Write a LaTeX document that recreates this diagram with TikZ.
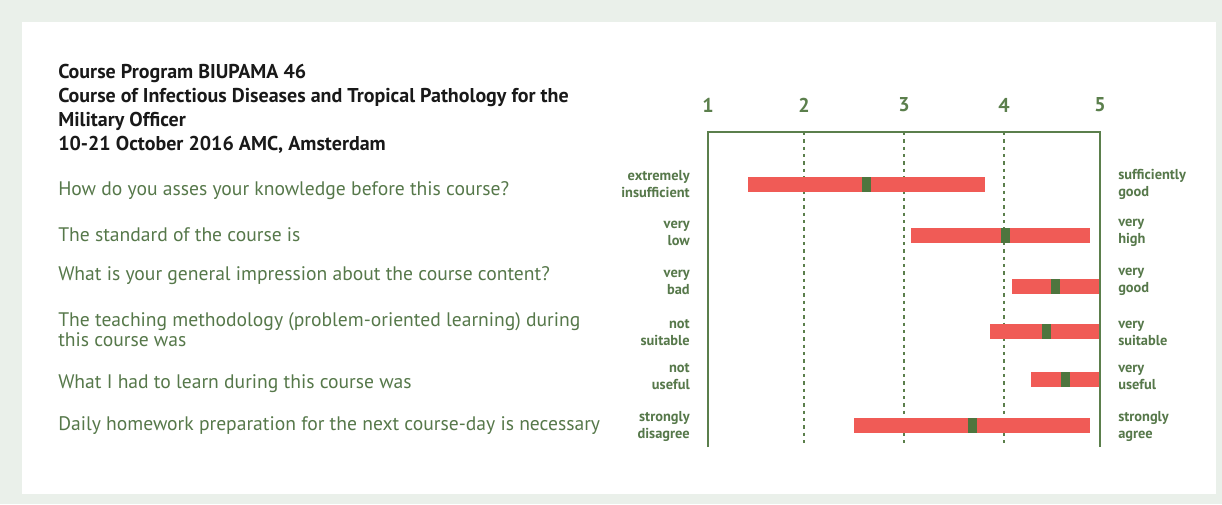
\documentclass[tikz,border=0pt]{standalone}
\usepackage{fontspec}
\setmainfont{PT Sans}
\definecolor{bgc}{HTML}{EAF0EA}
\definecolor{tg}{HTML}{56784A}
\definecolor{barred}{HTML}{F05B56}
\definecolor{barmark}{HTML}{4E753E}
\definecolor{axisc}{HTML}{5B7F4C}
\begin{document}
\begin{tikzpicture}[x=0.75pt,y=-0.75pt,
  titletxt/.style={anchor=west,inner sep=0pt,font=\fontsize{15}{17}\selectfont\bfseries,text=black!90},
  question/.style={anchor=west,inner sep=0pt,align=left,font=\fontsize{14.7}{15}\selectfont,text=tg},
  lefttag/.style={anchor=east,inner sep=0pt,align=right,font=\fontsize{10.8}{12.75}\selectfont\bfseries,text=tg},
  righttag/.style={anchor=west,inner sep=0pt,align=left,font=\fontsize{10.8}{12.75}\selectfont\bfseries,text=tg},
  numtag/.style={inner sep=0pt,font=\fontsize{15}{17}\selectfont\bfseries,text=axisc},
  axisline/.style={draw=axisc,line width=1.3pt},
  gridline/.style={draw=axisc,line width=1.1pt,dash pattern=on 2.5pt off 3pt},
  redbar/.style={fill=barred},
  markbar/.style={fill=barmark}]
\fill[bgc] (0,0) rectangle (1222,504);
\fill[white] (22,22) rectangle (1216,494);
\useasboundingbox (0,0) rectangle (1222,504);
% title
\node[titletxt] (t1) at (58,73) {Course Program BIUPAMA 46};
\node[titletxt] (t2) at (58,97) {Course of Infectious Diseases and Tropical Pathology for the};
\node[titletxt] (t3) at (58,121) {Military Officer};
\node[titletxt] (t4) at (58,145) {10-21 October 2016 AMC, Amsterdam};
% questions
\node[question] (q1) at (58,191) {How do you asses your knowledge before this course?};
\node[question] (q2) at (58,235) {The standard of the course is};
\node[question] (q3) at (58,276) {What is your general impression about the course content?};
\node[question] (q4) at (58,330) {The teaching methodology (problem-oriented learning) during\\this course was};
\node[question] (q5) at (58,384) {What I had to learn during this course was};
\node[question] (q6) at (58,426) {Daily homework preparation for the next course-day is necessary};
% scale numbers
\node[numtag] (n1) at (708,105) {1};
\node[numtag] (n2) at (804,105) {2};
\node[numtag] (n3) at (904,105) {3};
\node[numtag] (n4) at (1004,105) {4};
\node[numtag] (n5) at (1100,105) {5};
% axes
\draw[gridline] (804,132) -- (804,447);
\draw[gridline] (904,132) -- (904,447);
\draw[gridline] (1004,132) -- (1004,447);
% bars
\fill[redbar] (748,177) rectangle (985,192);
\fill[markbar] (862,177) rectangle (871,192);
\fill[redbar] (911,228) rectangle (1090,243);
\fill[markbar] (1001,228) rectangle (1010,243);
\fill[redbar] (1012,279) rectangle (1100,294);
\fill[markbar] (1051,279) rectangle (1060,294);
\fill[redbar] (990,324) rectangle (1100,339);
\fill[markbar] (1042,324) rectangle (1051,339);
\fill[redbar] (1031,372) rectangle (1100,387);
\fill[markbar] (1061,372) rectangle (1070,387);
\fill[redbar] (854,418) rectangle (1090,433);
\fill[markbar] (968,418) rectangle (977,433);
\draw[axisline] (708,447) -- (708,132) -- (1100,132) -- (1100,447);
% labels
\node[lefttag] (l1) at (690,184) {extremely\\insufficient};
\node[lefttag] (l2) at (690,233) {very\\low};
\node[lefttag] (l3) at (690,282) {very\\bad};
\node[lefttag] (l4) at (690,333) {not\\suitable};
\node[lefttag] (l5) at (690,377) {not\\useful};
\node[lefttag] (l6) at (690,426) {strongly\\disagree};
\node[righttag] (r1) at (1118,184) {sufficiently\\good};
\node[righttag] (r2) at (1118,233) {very\\high};
\node[righttag] (r3) at (1118,282) {very\\good};
\node[righttag] (r4) at (1118,333) {very\\suitable};
\node[righttag] (r5) at (1118,377) {very\\useful};
\node[righttag] (r6) at (1118,426) {strongly\\agree};
\end{tikzpicture}
\end{document}
